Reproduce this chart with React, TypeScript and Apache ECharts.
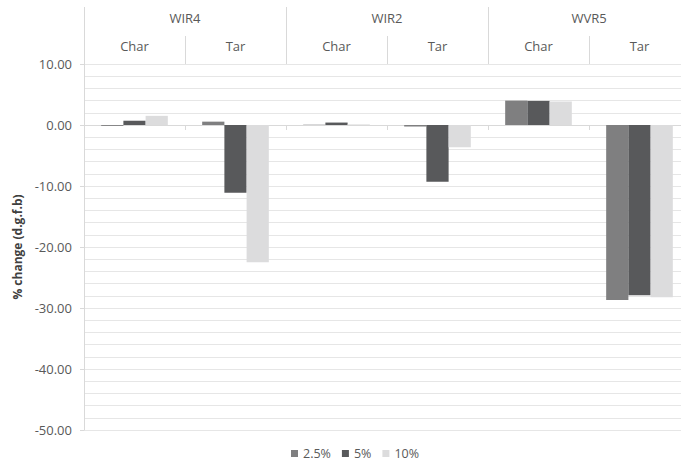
import React, { useEffect, useRef } from "react";
import * as echarts from "echarts";

const groups = ["WIR4", "WIR2", "WVR5"];
const subKeys = ["WIR4|Char", "WIR4|Tar", "WIR2|Char", "WIR2|Tar", "WVR5|Char", "WVR5|Tar"];
const seriesNames = ["2.5%", "5%", "10%"];
const values25 = [-0.15, 0.55, 0.05, -0.25, 4.0, -28.7];
const values5 = [0.7, -11.1, 0.4, -9.3, 3.95, -27.9];
const values10 = [1.5, -22.5, 0.1, -3.65, 3.85, -28.25];
const colors = ["#7f7f80", "#58595b", "#dcdcdd"];
const yTicks = { min: -50, max: 10, interval: 10 };

const FONT = "Open Sans";

export default function App() {
  const ref = useRef<HTMLDivElement>(null);
  useEffect(() => {
    document.body.style.margin = "0";
    document.body.style.overflow = "hidden";
    document.documentElement.style.overflow = "hidden";
    const chart = echarts.init(ref.current!, null, { renderer: "svg" });
    const seriesValues = [values25, values5, values10];
    chart.setOption({
      animation: false,
      backgroundColor: "#ffffff",
      textStyle: { fontFamily: FONT },
      grid: { left: 84, right: 10, top: 64, bottom: 33, containLabel: false },
      legend: {
        data: seriesNames,
        left: 286,
        top: 442,
        icon: "rect",
        itemWidth: 7,
        itemHeight: 7,
        itemGap: 11,
        textStyle: { color: "#595959", fontSize: 12.5, fontFamily: FONT },
      },
      xAxis: [
        {
          type: "category",
          data: subKeys,
          axisLine: { onZero: true, lineStyle: { color: "#d9d9d9" } },
          axisTick: { show: true, length: 5, interval: 0, lineStyle: { color: "#d9d9d9" } },
          axisLabel: { show: false },
          splitLine: { show: false },
        },
        {
          type: "category",
          data: subKeys,
          position: "top",
          axisLine: { show: false, onZero: false },
          axisTick: { show: true, length: 28, interval: 0, lineStyle: { color: "#d9d9d9" } },
          axisLabel: {
            interval: 0,
            margin: 12,
            color: "#595959",
            fontSize: 13,
            fontFamily: FONT,
            formatter: (v: string) => v.split("|")[1],
          },
        },
        {
          type: "category",
          data: groups,
          position: "top",
          axisLine: { show: false, onZero: false },
          axisTick: { show: true, length: 57, interval: 0, lineStyle: { color: "#d9d9d9" } },
          axisLabel: { interval: 0, margin: 40, color: "#595959", fontSize: 13, fontFamily: FONT },
        },
      ],
      yAxis: {
        type: "value",
        min: yTicks.min,
        max: yTicks.max,
        interval: yTicks.interval,
        name: "% change (d.g.f.b)",
        nameLocation: "middle",
        nameGap: 58,
        nameTextStyle: { color: "#404040", fontSize: 12, fontWeight: "bold", fontFamily: FONT },
        axisLine: { show: true, lineStyle: { color: "#d9d9d9" } },
        axisTick: { show: true, length: 4, lineStyle: { color: "#d9d9d9" } },
        axisLabel: {
          margin: 12,
          color: "#595959",
          fontSize: 13,
          fontFamily: FONT,
          formatter: (v: number) => v.toFixed(2),
        },
        splitLine: { show: true, lineStyle: { color: "#e6e6e6" } },
        minorTick: { show: false, splitNumber: 5 },
        minorSplitLine: { show: true, lineStyle: { color: "#e6e6e6" } },
      },
      series: seriesNames.map((name, i) => ({
        name,
        type: "bar",
        xAxisIndex: 0,
        data: seriesValues[i],
        barGap: "0%",
        barCategoryGap: "34%",
        itemStyle: { color: colors[i] },
      })),
    });
    return () => chart.dispose();
  }, []);
  return (
    <div
      ref={ref}
      style={{ position: "absolute", left: 0, top: 0, width: 700, height: 463 }}
    />
  );
}
